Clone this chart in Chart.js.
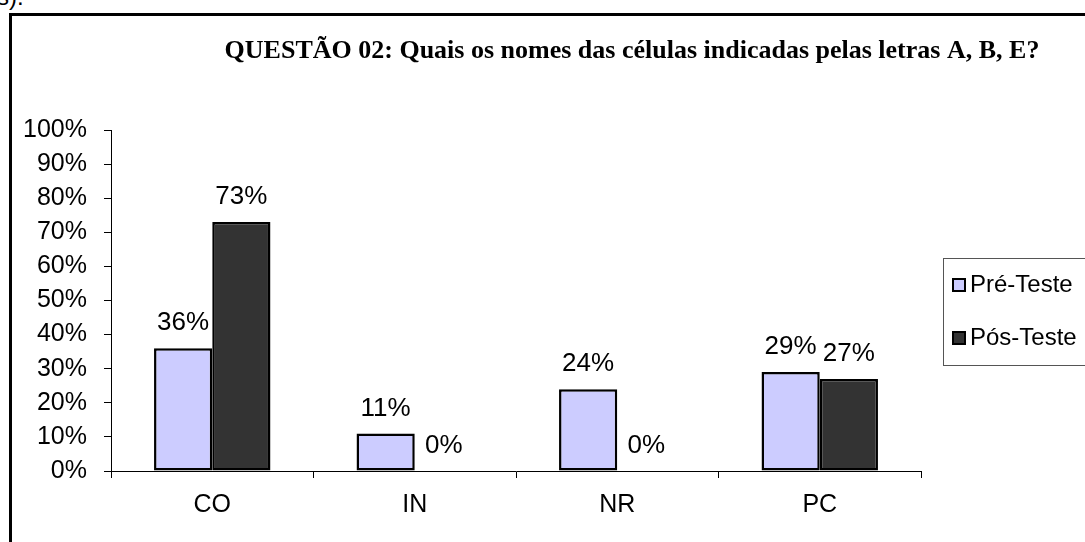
<!DOCTYPE html>
<html>
<head>
<meta charset="utf-8">
<script src="https://cdn.jsdelivr.net/npm/chart.js@4.4.0/dist/chart.umd.min.js"></script>
<style>
  html, body { margin: 0; padding: 0; background: #fff; overflow: hidden; }
  #wrap { position: relative; width: 1085px; height: 542px; }
  #frame { position: absolute; left: 9px; top: 13px; width: 1200px; height: 700px;
           border-left: 3px solid #000; border-top: 3px solid #000; }
  #cut { position: absolute; left: -3px; top: -17px; font: 24px "Liberation Sans", Arial, sans-serif; color: #000; }
  canvas { position: absolute; left: 0; top: 0; }
</style>
</head>
<body>
<div id="wrap">
  <div id="cut">s).</div>
  <div id="frame"></div>
  <canvas id="myChart" width="1085" height="542"></canvas>
</div>
<script>
// data
const categories = ['CO', 'IN', 'NR', 'PC'];
const preTeste = [36, 11, 24, 29];
const posTeste = [73, 0, 0, 27];
const seriesNames = ['Pré-Teste', 'Pós-Teste'];
const titleText = 'QUESTÃO 02: Quais os nomes das células indicadas pelas letras A, B, E?';

Chart.defaults.font.family = '"Liberation Sans", Arial, sans-serif';
Chart.defaults.font.size = 25;
Chart.defaults.color = '#000';

// labels above bars
const barLabels = {
	id: 'barLabels',
	afterDatasetsDraw(chart) {
		const ctx = chart.ctx;
		ctx.save();
		ctx.font = '26px "Liberation Sans", Arial, sans-serif';
		ctx.fillStyle = '#000';
		ctx.textAlign = 'center';
		ctx.textBaseline = 'middle';
		chart.data.datasets.forEach((ds, i) => {
			chart.getDatasetMeta(i).data.forEach((bar, j) => {
				ctx.fillText(ds.data[j] + '%', bar.x, bar.y - 25);
			});
		});
		ctx.restore();
	}
};

// title + legend box on the right
const extras = {
	id: 'extras',
	afterDraw(chart) {
		const ctx = chart.ctx;
		const area = chart.chartArea;
		ctx.save();
		ctx.font = 'bold 26px "Liberation Serif", "Times New Roman", serif';
		ctx.fillStyle = '#000';
		ctx.textAlign = 'center';
		ctx.textBaseline = 'middle';
		ctx.fillText(titleText, 632, 51);

		// legend
		const lx = area.right + 22;
		ctx.strokeStyle = '#555';
		ctx.lineWidth = 1;
		ctx.strokeRect(lx + 0.5, 258.5, 200, 107);
		ctx.font = '24px "Liberation Sans", Arial, sans-serif';
		ctx.textAlign = 'left';
		chart.data.datasets.forEach((ds, i) => {
			const cy = 285 + i * 53;
			ctx.fillStyle = ds.backgroundColor;
			ctx.fillRect(lx + 10, cy - 6, 12, 12);
			ctx.strokeStyle = '#000';
			ctx.lineWidth = 2;
			ctx.strokeRect(lx + 10, cy - 6, 12, 12);
			ctx.fillStyle = '#000';
			ctx.fillText(ds.label, lx + 27, cy);
		});
		ctx.restore();
	}
};

const data = {
	labels: categories,
	datasets: [{
		label: seriesNames[0],
		data: preTeste,
		backgroundColor: '#CCCCFF',
		borderColor: '#000',
		borderWidth: 2.5,
		borderSkipped: false
	}, {
		label: seriesNames[1],
		data: posTeste,
		backgroundColor: '#333333',
		borderColor: '#000',
		borderWidth: 2.5,
		borderSkipped: false
	}]
};

const config = {
	type: 'bar',
	data,
	options: {
		responsive: false,
		animation: false,
		categoryPercentage: 0.575,
		barPercentage: 1,
		layout: { padding: { left: 0, top: 130, right: 164, bottom: 0 } },
		plugins: {
			legend: { display: false },
			tooltip: { enabled: false }
		},
		scales: {
			y: {
				min: 0,
				max: 100,
				ticks: { stepSize: 10, padding: 17, callback: v => v + '%' },
				grid: { drawOnChartArea: false, tickLength: 7, color: '#000' },
				border: { color: '#000' },
				afterFit: s => { s.width = 111; }
			},
			x: {
				ticks: { padding: 12 },
				grid: { drawOnChartArea: false, tickLength: 7, color: '#000', offset: true },
				border: { color: '#000' },
				afterFit: s => { s.height = 71; }
			}
		}
	},
	plugins: [barLabels, extras]
};

const myChart = new Chart(document.getElementById('myChart'), config);
</script>
</body>
</html>
